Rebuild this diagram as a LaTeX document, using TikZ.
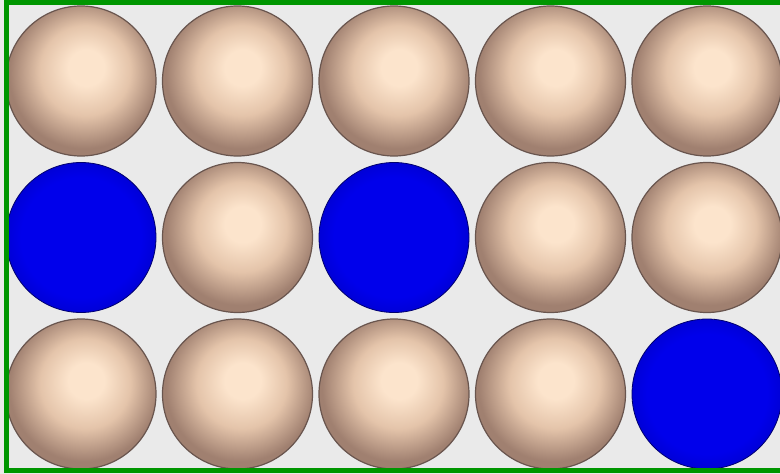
\documentclass[tikz,border=0pt]{standalone}
\definecolor{bgc}{RGB}{234,234,234}
\definecolor{grn}{RGB}{0,150,0}
\definecolor{bcen}{RGB}{252,228,204}
\definecolor{bmid}{RGB}{228,196,170}
\definecolor{bedge}{RGB}{160,128,112}
\definecolor{bline}{RGB}{105,85,78}
\definecolor{blu}{RGB}{0,0,235}
\definecolor{bluedge}{RGB}{0,0,215}
\definecolor{bluline}{RGB}{0,0,110}
\pgfdeclareradialshading{beigeball}{\pgfpoint{2bp}{5bp}}{color(0bp)=(bcen); color(6bp)=(bcen); color(15bp)=(bmid); color(25bp)=(bedge); color(50bp)=(bedge)}
\pgfdeclareradialshading{blueball}{\pgfpoint{0bp}{0bp}}{color(0bp)=(blu); color(20bp)=(blu); color(25bp)=(bluedge); color(50bp)=(bluedge)}
\tikzset{
  ball/.style={circle, minimum size=150pt, inner sep=0pt, draw=bline, line width=1.2pt, shading=beigeball},
  bball/.style={circle, minimum size=150pt, inner sep=0pt, draw=bluline, line width=0.8pt, shading=blueball},
}
\begin{document}
\begin{tikzpicture}[x=1pt,y=-1pt]
\useasboundingbox (0,0) rectangle (780,474);
\begin{scope}
\clip (0,0) rectangle (780,474);
\fill[bgc] (0,0) rectangle (780,474);
\node[ball]  (a1) at (81,81) {};
\node[ball]  (a2) at (237.5,81) {};
\node[ball]  (a3) at (394,81) {};
\node[ball]  (a4) at (550.5,81) {};
\node[ball]  (a5) at (707,81) {};
\node[bball] (b1) at (81,237.5) {};
\node[ball]  (b2) at (237.5,237.5) {};
\node[bball] (b3) at (394,237.5) {};
\node[ball]  (b4) at (550.5,237.5) {};
\node[ball]  (b5) at (707,237.5) {};
\node[ball]  (c1) at (81,394) {};
\node[ball]  (c2) at (237.5,394) {};
\node[ball]  (c3) at (394,394) {};
\node[ball]  (c4) at (550.5,394) {};
\node[bball] (c5) at (707,394) {};
\draw[grn, line width=5.5pt] (6.5,2.5) rectangle (784,470.5);
\end{scope}
\end{tikzpicture}
\end{document}
